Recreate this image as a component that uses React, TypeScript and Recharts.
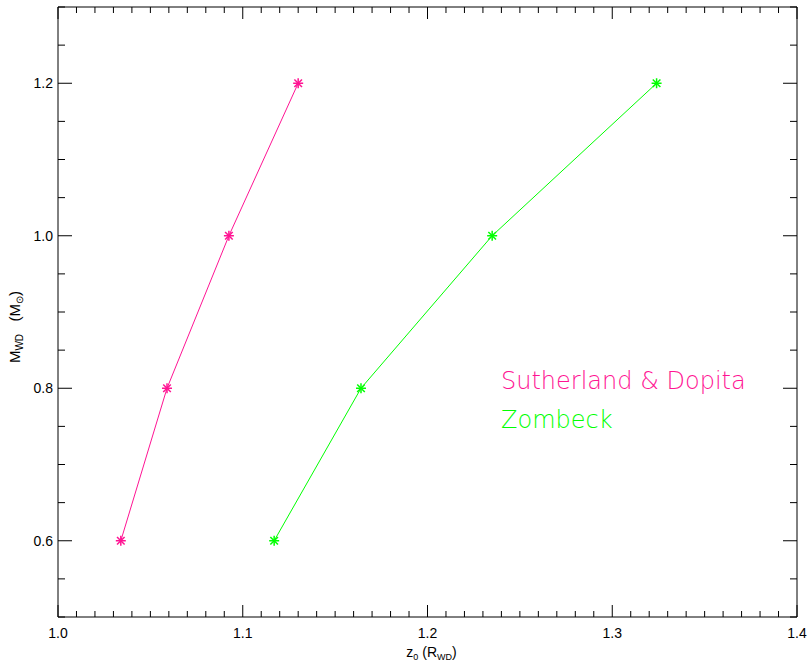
import { Legend, Line, LineChart, XAxis, YAxis } from "recharts";

// white dwarf mass vs z0, two emission models
const massValues = [0.6, 0.8, 1.0, 1.2];
const sutherlandZ0 = [1.034, 1.059, 1.0925, 1.13];
const zombeckZ0 = [1.117, 1.164, 1.235, 1.324];

const xMajorTicks = [1.0, 1.1, 1.2, 1.3, 1.4];
const yMajorTicks = [0.6, 0.8, 1.0, 1.2];
const X_MINOR_STEP = 0.01;
const Y_MINOR_STEP = 0.05;

const PINK = "#ff1493";
const GREEN = "#00ff00";
const TICK_FONT = "'Liberation Sans', Arial, sans-serif";

const makeTicks = (lo: number, hi: number, step: number) => {
  const out: number[] = [];
  const n = Math.round((hi - lo) / step);
  for (let i = 0; i <= n; i++) out.push(Math.round((lo + i * step) * 1000) / 1000);
  return out;
};

const xTicks = makeTicks(xMajorTicks[0], xMajorTicks[xMajorTicks.length - 1], X_MINOR_STEP);
const yTicks = makeTicks(0.5, 1.3, Y_MINOR_STEP);

const isMajor = (v: number, majors: number[]) => majors.some((m) => Math.abs(m - v) < 1e-6);

const sutherland = massValues.map((m, i) => ({ z0: sutherlandZ0[i], mass: m }));
const zombeck = massValues.map((m, i) => ({ z0: zombeckZ0[i], mass: m }));

function BottomTick({ x, y, payload }: any) {
  const major = isMajor(payload.value, xMajorTicks);
  return (
    <g>
      <line x1={x} y1={y} x2={x} y2={y - (major ? 12 : 6)} stroke="#000" />
      {major && (
        <text x={x} y={y + 21} textAnchor="middle" fontSize={14} fontFamily={TICK_FONT} fill="#000">
          {payload.value.toFixed(1)}
        </text>
      )}
    </g>
  );
}

function TopTick({ x, y, payload }: any) {
  const major = isMajor(payload.value, xMajorTicks);
  return <line x1={x} y1={y} x2={x} y2={y + (major ? 12 : 6)} stroke="#000" />;
}

function LeftTick({ x, y, payload }: any) {
  const major = isMajor(payload.value, yMajorTicks);
  return (
    <g>
      <line x1={x} y1={y} x2={x + (major ? 14 : 7)} y2={y} stroke="#000" />
      {major && (
        <text x={x - 5} y={y + 5} textAnchor="end" fontSize={14} fontFamily={TICK_FONT} fill="#000">
          {payload.value.toFixed(1)}
        </text>
      )}
    </g>
  );
}

function RightTick({ x, y, payload }: any) {
  const major = isMajor(payload.value, yMajorTicks);
  return <line x1={x} y1={y} x2={x - (major ? 14 : 7)} y2={y} stroke="#000" />;
}

function Asterisk({ cx, cy, stroke }: any) {
  if (cx == null || cy == null) return null;
  const r = 5;
  const d = 3.8;
  return (
    <g stroke={stroke} strokeWidth={1.5}>
      <line x1={cx - r} y1={cy} x2={cx + r} y2={cy} />
      <line x1={cx} y1={cy - r} x2={cx} y2={cy + r} />
      <line x1={cx - d} y1={cy - d} x2={cx + d} y2={cy + d} />
      <line x1={cx - d} y1={cy + d} x2={cx + d} y2={cy - d} />
    </g>
  );
}

function XTitle({ viewBox }: any) {
  const cx = viewBox.x + viewBox.width / 2 + 4;
  return (
    <text x={cx} y={viewBox.y + 40} textAnchor="middle" fontSize={14} fontFamily={TICK_FONT} fill="#000">
      z
      <tspan fontSize={9} dy={3}>0</tspan>
      <tspan dy={-3}> (R</tspan>
      <tspan fontSize={9} dy={3}>WD</tspan>
      <tspan dy={-3}>)</tspan>
    </text>
  );
}

function YTitle() {
  const x = 20;
  const y = 327;
  return (
    <text
      x={x}
      y={y}
      textAnchor="middle"
      fontSize={15}
      fontFamily={TICK_FONT}
      fill="#000"
      transform={`rotate(-90, ${x}, ${y})`}
    >
      M
      <tspan fontSize={10} dy={3}>WD</tspan>
      <tspan dy={-3} xmlSpace="preserve">{"   (M"}</tspan>
      <tspan fontSize={10} dy={3}>⊙</tspan>
      <tspan dy={-3}>)</tspan>
    </text>
  );
}

function ModelLegend() {
  const style = {
    fontFamily: "'DejaVu Sans', sans-serif",
    fontWeight: 200,
    fontSize: 24,
    lineHeight: "39px",
    whiteSpace: "nowrap" as const,
  };
  return (
    <div>
      <div style={{ ...style, color: PINK }}>Sutherland &amp; Dopita</div>
      <div style={{ ...style, color: GREEN }}>Zombeck</div>
    </div>
  );
}

export default function App() {
  return (
    <div style={{ position: "absolute", left: 0, top: 0, background: "#fff" }}>
      <LineChart width={808} height={665} margin={{ top: 6, right: 10, bottom: 0, left: 0 }}>
        <XAxis
          dataKey="z0"
          type="number"
          domain={[1.0, 1.4]}
          allowDataOverflow
          ticks={xTicks}
          interval={0}
          tick={<BottomTick />}
          tickLine={false}
          tickSize={0}
          tickMargin={0}
          axisLine={{ stroke: "#000" }}
          height={48}
          label={<XTitle />}
        />
        <XAxis
          xAxisId="top"
          dataKey="z0"
          orientation="top"
          type="number"
          domain={[1.0, 1.4]}
          allowDataOverflow
          ticks={xTicks}
          interval={0}
          tick={<TopTick />}
          tickLine={false}
          tickSize={0}
          tickMargin={0}
          axisLine={{ stroke: "#000" }}
          height={1}
        />
        <YAxis
          dataKey="mass"
          type="number"
          domain={[0.5, 1.3]}
          allowDataOverflow
          ticks={yTicks}
          interval={0}
          tick={<LeftTick />}
          tickLine={false}
          tickSize={0}
          tickMargin={0}
          axisLine={{ stroke: "#000" }}
          width={58}
          label={<YTitle />}
        />
        <YAxis
          yAxisId="right"
          dataKey="mass"
          orientation="right"
          type="number"
          domain={[0.5, 1.3]}
          allowDataOverflow
          ticks={yTicks}
          interval={0}
          tick={<RightTick />}
          tickLine={false}
          tickSize={0}
          tickMargin={0}
          axisLine={{ stroke: "#000" }}
          width={1}
        />
        <Legend
          layout="vertical"
          align="center"
          verticalAlign="middle"
          content={<ModelLegend />}
          wrapperStyle={{ left: 501, top: 362, width: 290 }}
        />
        <Line
          data={sutherland}
          dataKey="mass"
          name="Sutherland & Dopita"
          type="linear"
          stroke={PINK}
          strokeWidth={1}
          dot={(p: any) => <Asterisk key={`s${p.index}`} cx={p.cx} cy={p.cy} stroke={PINK} />}
          activeDot={false}
          isAnimationActive={false}
        />
        <Line
          data={zombeck}
          dataKey="mass"
          name="Zombeck"
          type="linear"
          stroke={GREEN}
          strokeWidth={1}
          dot={(p: any) => <Asterisk key={`z${p.index}`} cx={p.cx} cy={p.cy} stroke={GREEN} />}
          activeDot={false}
          isAnimationActive={false}
        />
      </LineChart>
    </div>
  );
}
